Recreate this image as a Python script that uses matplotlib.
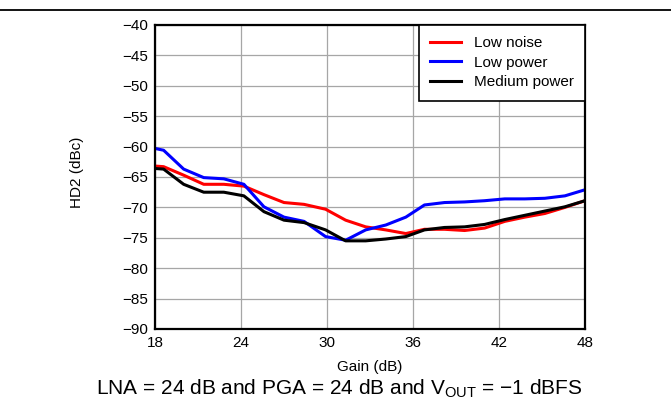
import matplotlib
matplotlib.use('Agg')
import matplotlib.pyplot as plt
from matplotlib.lines import Line2D

plt.rcParams['font.family'] = ['Liberation Sans', 'DejaVu Sans']
plt.rcParams['mathtext.default'] = 'regular'

# gain (dB) and HD2 (dBc)
gain = [18, 18.6, 20, 21.4, 22.8, 24.2, 25.6, 27, 28.4, 29.9, 31.3, 32.7,
        34.1, 35.5, 36.8, 38.2, 39.6, 41, 42.4, 43.8, 45.2, 46.6, 48]

low_noise = [-63.2, -63.3, -64.7, -66.2, -66.2, -66.5, -67.9, -69.2, -69.5,
             -70.3, -72.1, -73.2, -73.7, -74.3, -73.6, -73.6, -73.8, -73.4,
             -72.3, -71.6, -71.0, -70.0, -68.9]

low_power = [-60.3, -60.6, -63.7, -65.1, -65.3, -66.2, -69.9, -71.6, -72.3,
             -74.8, -75.4, -73.7, -72.9, -71.6, -69.6, -69.2, -69.1, -68.9,
             -68.6, -68.6, -68.5, -68.1, -67.1]

medium_power = [-63.6, -63.7, -66.2, -67.5, -67.5, -68.1, -70.7, -72.1, -72.5,
                -73.7, -75.5, -75.5, -75.2, -74.8, -73.7, -73.3, -73.2, -72.8,
                -72.0, -71.3, -70.6, -69.9, -68.9]

series = [('Low noise', low_noise, '#ff0000'),
          ('Low power', low_power, '#0000ff'),
          ('Medium power', medium_power, '#000000')]

xticks = [18, 24, 30, 36, 42, 48]
yticks = list(range(-90, -39, 5))

fig = plt.figure(figsize=(6.71, 4.08), dpi=100)
ax = fig.add_axes([155 / 671, 1 - 329 / 408, 430 / 671, 304 / 408])

for name, vals, col in series:
    ax.plot(gain, vals, color=col, lw=2.2, label=name,
            solid_joinstyle='round', zorder=3)

ax.set_xlim(18, 48)
ax.set_ylim(-90, -40)
ax.set_xticks(xticks)
ax.set_yticks(yticks)
ax.grid(True, color='#a6a6a6', lw=0.9)
ax.tick_params(length=0, labelsize=11, pad=5)
for s in ax.spines.values():
    s.set_linewidth(1.6)
    s.set_zorder(4)

ax.set_xlabel('Gain (dB)', fontsize=11)
ax.set_ylabel('HD2 (dBc)', fontsize=11)
ax.xaxis.set_label_coords(0.5, -0.103)
ax.yaxis.set_label_coords(-0.166, 0.516)

leg = ax.legend(loc='upper right', borderaxespad=0, fancybox=False,
                framealpha=1, edgecolor='black', fontsize=11,
                handlelength=2.0, handletextpad=0.85, labelspacing=0.35,
                borderpad=0.75)
leg.get_frame().set_linewidth(1.2)
leg.set_zorder(5)

fig.text(0.505, 0.033, 'LNA = 24 dB and PGA = 24 dB and V$_{OUT}$ = \u22121 dBFS',
         ha='center', va='baseline', fontsize=15)

# separator rule at the top of the figure
fig.add_artist(Line2D([0, 1], [1 - 10 / 408, 1 - 10 / 408],
                      transform=fig.transFigure, color='black', lw=1.3))

fig.savefig('out.png', dpi=100)
